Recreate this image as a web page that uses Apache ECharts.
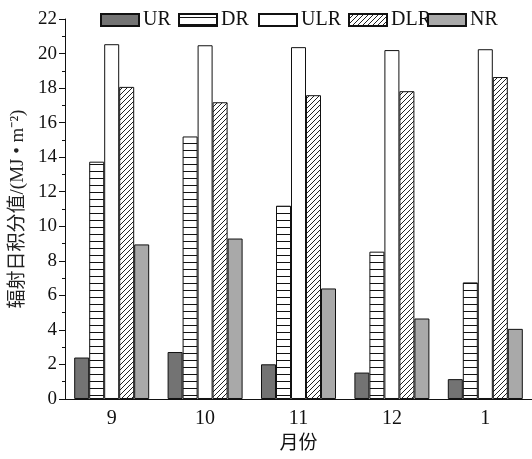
<!DOCTYPE html>
<html><head><meta charset="utf-8">
<script src="https://cdn.jsdelivr.net/npm/echarts@6/dist/echarts.min.js"></script>
<style>html,body{margin:0;padding:0;background:#fff}#c{width:532px;height:459px}</style>
</head><body><div id="c"></div>
<script>
const months = ['9','10','11','12','1'];
const seriesNames = ['UR','DR','ULR','DLR','NR'];
const UR  = [2.40, 2.72, 2.01, 1.53, 1.15];
const DR  = [13.74, 15.20, 11.19, 8.53, 6.75];
const ULR = [20.54, 20.48, 20.37, 20.20, 20.25];
const DLR = [18.07, 17.18, 17.59, 17.82, 18.64];
const NR  = [8.95, 9.29, 6.40, 4.66, 4.06];
const yTicks = [0,2,4,6,8,10,12,14,16,18,20,22];

function hLines(){
  const c=document.createElement('canvas'); c.width=8; c.height=7;
  const x=c.getContext('2d'); x.fillStyle='#fff'; x.fillRect(0,0,8,7);
  x.strokeStyle='#111'; x.lineWidth=1; x.beginPath(); x.moveTo(0,3.5); x.lineTo(8,3.5); x.stroke();
  return c;
}
function diag(){
  const s=5; const c=document.createElement('canvas'); c.width=s; c.height=s;
  const x=c.getContext('2d'); x.fillStyle='#fff'; x.fillRect(0,0,s,s);
  x.strokeStyle='#222'; x.lineWidth=1; x.beginPath();
  x.moveTo(0,s); x.lineTo(s,0);
  x.moveTo(-1,1); x.lineTo(1,-1);
  x.moveTo(s-1,s+1); x.lineTo(s+1,s-1);
  x.stroke();
  return c;
}
const fills = {
  UR: '#737373',
  DR: {image: hLines(), repeat: 'repeat'},
  ULR: '#ffffff',
  DLR: {image: diag(), repeat: 'repeat'},
  NR: '#a9a9a9'
};
const dataMap = {UR, DR, ULR, DLR, NR};
const font = 'Liberation Serif, "Noto Sans CJK SC", serif';
const legendLeft = [100, 178, 258, 348, 427];

const chart = echarts.init(document.getElementById('c'));
chart.setOption({
  animation: false,
  backgroundColor: '#fff',
  grid: {left: 65, right: -2, top: 19, bottom: 57},
  legend: seriesNames.map((n,i)=>({
    data: [n], left: legendLeft[i], top: 10, padding: 0, icon: 'rect',
    itemWidth: 38, itemHeight: 12, itemGap: 0,
    textStyle: {fontFamily: font, fontSize: 20, color: '#111', padding: [0,0,0,-1]},
    selectedMode: false
  })),
  xAxis: [{
    type: 'category', data: months,
    axisLine: {lineStyle: {color: '#111', width: 1}},
    axisTick: {alignWithLabel: true, length: 6, lineStyle: {color: '#111'}},
    axisLabel: {fontFamily: font, fontSize: 20, color: '#111', margin: 10},
    name: '月份', nameLocation: 'middle', nameGap: 36,
    nameTextStyle: {fontFamily: font, fontSize: 19, color: '#111'}
  },{
    type: 'category', data: months, position: 'bottom',
    axisLine: {show: false},
    axisTick: {length: 4, lineStyle: {color: '#111'}},
    axisLabel: {show: false}
  }],
  yAxis: {
    type: 'value', min: yTicks[0], max: yTicks[yTicks.length-1], interval: 2,
    splitLine: {show: false},
    axisLine: {show: true, lineStyle: {color: '#111'}},
    axisTick: {show: true, length: 6, lineStyle: {color: '#111'}},
    minorTick: {show: true, splitNumber: 2, length: 3, lineStyle: {color: '#111'}},
    axisLabel: {fontFamily: font, fontSize: 19, color: '#111', margin: 8},
    name: '辐射日积分值/(MJ • m⁻²)', nameLocation: 'middle', nameGap: 36, nameRotate: 90,
    nameTextStyle: {fontFamily: font, fontSize: 19, color: '#222'}
  },
  series: seriesNames.map(n=>({
    name: n, type: 'bar', data: dataMap[n], barWidth: 15, barGap: '0%',
    itemStyle: {color: fills[n], borderColor: '#111', borderWidth: 1}
  }))
});
</script></body></html>
